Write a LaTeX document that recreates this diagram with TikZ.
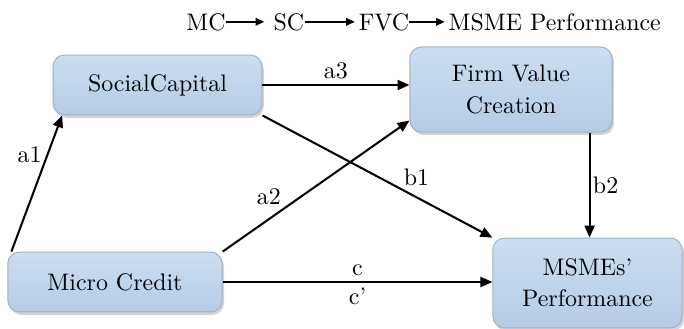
\documentclass[tikz,border=0pt]{standalone}
\usepackage{tikz}
\usetikzlibrary{arrows.meta, positioning, shadows}
\definecolor{boxtop}{RGB}{204,222,240}
\definecolor{boxbot}{RGB}{180,204,228}
\definecolor{boxline}{RGB}{160,176,194}

\begin{document}
\begin{tikzpicture}[x=0.0147cm, y=-0.0147cm,
		box/.style={draw=boxline, rounded corners=0.17cm, top color=boxtop, bottom color=boxbot, align=center,
			drop shadow={opacity=0.35, shadow xshift=0.8pt, shadow yshift=-1.2pt}},
		conn/.style={line width=0.85pt, -{Triangle[length=5pt, width=4.2pt]}},
		tarrow/.style={line width=0.6pt, -{Triangle[length=3.6pt, width=3.2pt]}, shorten >=1.5pt},
		lbl/.style={inner sep=2pt}]
	\useasboundingbox (0,0) rectangle (684,329);
	% Title
	\node[inner sep=0pt, anchor=base west] (tMC) at (186,30) {MC};
	\node[inner sep=0pt, base right=19.6pt of tMC] (tSC) {SC};
	\node[inner sep=0pt, base right=22.5pt of tSC] (tFVC) {FVC};
	\node[inner sep=0pt, base right=16.2pt of tFVC] (tPerf) {MSME Performance};
	\draw[tarrow, shorten >=3.7pt] (tMC.east) -- (tSC.west);
	\draw[tarrow] (tSC.east) -- (tFVC.west);
	\draw[tarrow] (tFVC.east) -- (tPerf.west);
	% Boxes
	\node[box, minimum width=3.07cm, minimum height=0.88cm] (SC) at (157.5,85) {SocialCapital};
	\node[box, minimum width=2.97cm, minimum height=1.25cm] (FVC) at (511,89.5) {Firm Value\\[1pt] Creation};
	\node[box, minimum width=3.15cm, minimum height=0.88cm] (MC) at (115,282) {Micro Credit};
	\node[box, minimum width=2.78cm, minimum height=1.32cm] (MSME) at (587.5,283) {MSMEs'\\[1pt] Performance};
	% Paths
	\draw[conn] ([xshift=1.7pt]MC.north west) -- node[lbl, pos=.71, left] {a1} ([xshift=4pt]SC.south west);
	\draw[conn] (MC.north east) -- node[lbl, pos=.33, above left, inner sep=1pt] {a2} ([yshift=5pt]FVC.south west);
	\draw[conn] (SC.east) -- node[lbl, midway, above] {a3} (SC.east -| FVC.west);
	\draw[conn] (SC.south east) -- node[lbl, pos=.6, above right, inner sep=1pt] {b1} (MSME.north west);
	\draw[conn] ([xshift=-9.6pt]FVC.south east) coordinate (b2top) -- node[midway, right, inner sep=1pt] {b2} (b2top |- MSME.north);
	\draw[conn] (MC.east) -- node[lbl, midway, above] {c} node[lbl, midway, below] {c'} (MC.east -| MSME.west);
\end{tikzpicture}
\end{document}
